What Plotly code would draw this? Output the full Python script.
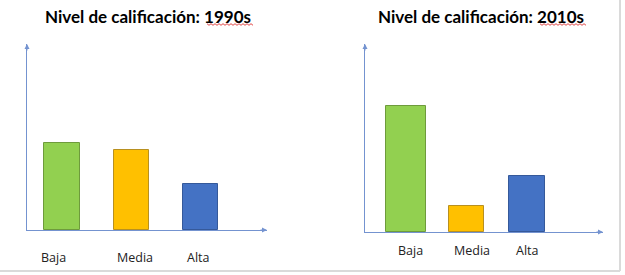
import plotly.graph_objects as go

categories = ["Baja", "Media", "Alta"]
values_1990s = [47, 43, 25]
values_2010s = [67, 14, 30]
titles = ["Nivel de calificación: ", "Nivel de calificación: "]
decades = ["1990s", "2010s"]

fill_colors = ["#92D050", "#FFC000", "#4472C4"]
line_colors = ["#6E9B3C", "#B89020", "#35599A"]
axis_color = "#7493D0"

fig = go.Figure()
fig.add_trace(go.Bar(x=categories, y=values_1990s, xaxis="x", yaxis="y",
                     width=[0.53, 0.51, 0.51],
                     marker=dict(color=fill_colors, line=dict(color=line_colors, width=1))))
fig.add_trace(go.Bar(x=categories, y=values_2010s, xaxis="x2", yaxis="y2",
                     width=[0.66, 0.58, 0.6],
                     marker=dict(color=fill_colors, line=dict(color=line_colors, width=1))))

W, H = 625, 275
common_x = dict(showline=True, linecolor=axis_color, linewidth=1, showgrid=False,
                zeroline=False, ticks="", showticklabels=False)
common_y = dict(showline=True, linecolor=axis_color, linewidth=1, showgrid=False,
                zeroline=False, showticklabels=False, ticks="", range=[0, 100])

fig.update_layout(
    width=W, height=H, margin=dict(l=0, r=0, t=0, b=0),
    paper_bgcolor="white", plot_bgcolor="white", showlegend=False, bargap=0,
    xaxis=dict(domain=[27 / W, 267 / W], range=[-0.51, 2.97], anchor="y", **common_x),
    yaxis=dict(domain=[1 - 230 / H, 1 - 44 / H], anchor="x", **common_y),
    xaxis2=dict(domain=[365 / W, 603 / W], range=[-0.68, 3.25], anchor="y2", **common_x),
    yaxis2=dict(domain=[1 - 232 / H, 1 - 44 / H], anchor="x2", **common_y),
)

# category labels
label_font = dict(family="Open Sans", size=12.5, color="#222")
shifts = {"x": ([-9, 4, -2], 27), "x2": ([4, 5, 0], 18)}
for xa, ya in [("x", "y"), ("x2", "y2")]:
    xs, dy = shifts[xa]
    for c, s in zip(categories, xs):
        fig.add_annotation(text=c, xref=xa, yref=ya + " domain", x=c, y=0,
                           xshift=s, yshift=-dy, xanchor="center", yanchor="middle",
                           showarrow=False, font=label_font)

# titles
for i, (t, d) in enumerate(zip(titles, decades)):
    fig.add_annotation(
        text="<b>" + t + d + "</b>",
        xref="paper", yref="paper", x=(148 if i == 0 else 481) / W, y=1 - 17 / H,
        xanchor="center", yanchor="middle", showarrow=False,
        font=dict(family="Lato", size=17, color="black"))

# spell-check squiggle under the decade
for x0, x1 in [(207, 253), (540, 586)]:
    pts = []
    x = x0
    k = 0
    while x <= x1:
        pts.append(f"{x / W:.5f},{1 - (24.5 + (0.8 if k % 2 else -0.8)) / H:.5f}")
        x += 2
        k += 1
    fig.add_shape(type="path", xref="paper", yref="paper",
                  path="M" + " L".join(pts), line=dict(color="#E04848", width=1))

# arrowheads
for xa, ya in [("x", "y"), ("x2", "y2")]:
    fig.add_annotation(xref=xa + " domain", yref=ya + " domain", x=1, y=0,
                       ax=-8, ay=0, axref="pixel", ayref="pixel", text="", showarrow=True,
                       arrowhead=2, arrowsize=1, arrowwidth=1, arrowcolor=axis_color)
    fig.add_annotation(xref=xa + " domain", yref=ya + " domain", x=0, y=1,
                       ax=0, ay=8, axref="pixel", ayref="pixel", text="", showarrow=True,
                       arrowhead=2, arrowsize=1, arrowwidth=1, arrowcolor=axis_color)

# light frame on right and bottom
fig.add_shape(type="line", xref="paper", yref="paper", x0=620 / W, x1=620 / W, y0=1 - 271 / H, y1=1,
              line=dict(color="#DADADA", width=2))
fig.add_shape(type="line", xref="paper", yref="paper", x0=0, x1=620 / W, y0=1 - 271 / H, y1=1 - 271 / H,
              line=dict(color="#DADADA", width=2))

fig.write_html("out.html")
